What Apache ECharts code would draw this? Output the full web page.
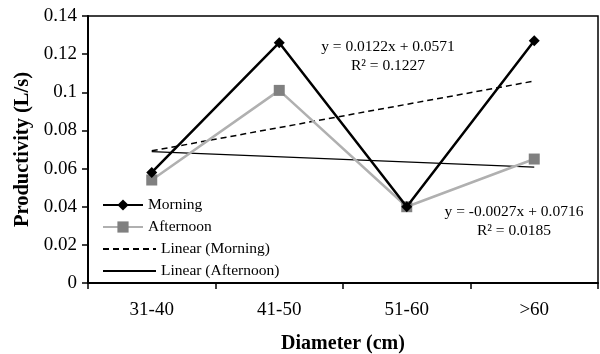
<!DOCTYPE html>
<html><head><meta charset="utf-8">
<script src="https://cdn.jsdelivr.net/npm/echarts@6/dist/echarts.min.js"></script>
<style>html,body{margin:0;padding:0;background:#fff}#c{width:600px;height:354px}</style>
</head><body><div id="c"></div>
<script>
var categories = ['31-40', '41-50', '51-60', '>60'];
var morning = [0.058, 0.126, 0.040, 0.127];
var afternoon = [0.054, 0.101, 0.040, 0.065];
var linearMorning = [0.0693, null, null, 0.1059];
var linearAfternoon = [0.0689, null, null, 0.0608];
var eqMorning = ['y = 0.0122x + 0.0571', 'R\u00B2 = 0.1227'];
var eqAfternoon = ['y = -0.0027x + 0.0716', 'R\u00B2 = 0.0185'];

var F = '"Liberation Serif", "Times New Roman", serif';
var legendText = {fontFamily: F, fontSize: 15.5, color: '#000', lineHeight: 16};
var chart = echarts.init(document.getElementById('c'));
chart.setOption({
  animation: false,
  grid: {left: 88, right: 2, top: 16, bottom: 71, outerBoundsMode: 'none', containLabel: false,
         show: true, borderColor: '#000', borderWidth: 1.5},
  legend: [
    {left: 102, top: 197, padding: 0, orient: 'vertical', itemGap: 6, itemWidth: 40, itemHeight: 14,
     textStyle: legendText, data: ['Morning', 'Afternoon']},
    {left: 102, top: 241, padding: 0, orient: 'vertical', itemGap: 6, itemWidth: 53, itemHeight: 14,
     textStyle: legendText,
     data: [{name: 'Linear (Morning)', itemStyle: {opacity: 0}},
            {name: 'Linear (Afternoon)', itemStyle: {opacity: 0}}]}
  ],
  xAxis: {
    type: 'category', data: categories, boundaryGap: true,
    axisLine: {lineStyle: {color: '#000', width: 2}},
    axisTick: {show: true, length: 6, lineStyle: {color: '#000', width: 1.5}},
    axisLabel: {fontFamily: F, fontSize: 19, color: '#000', margin: 18},
    name: 'Diameter (cm)', nameLocation: 'middle', nameGap: 51,
    nameTextStyle: {fontFamily: F, fontSize: 20, fontWeight: 'bold', color: '#000'}
  },
  yAxis: {
    type: 'value', min: 0, max: 0.14, interval: 0.02,
    axisLine: {show: true, lineStyle: {color: '#000', width: 2}},
    axisTick: {show: true, length: 6, lineStyle: {color: '#000', width: 1.5}},
    splitLine: {show: false},
    axisLabel: {fontFamily: F, fontSize: 19, color: '#000', margin: 11},
    name: 'Productivity (L/s)', nameLocation: 'middle', nameGap: 51,
    nameTextStyle: {fontFamily: F, fontSize: 20.5, fontWeight: 'bold', color: '#000'}
  },
  series: [
    {name: 'Linear (Morning)', type: 'line', data: linearMorning, connectNulls: true, symbol: 'none',
     lineStyle: {color: '#000', width: 1.5, type: [6, 4]}, itemStyle: {color: '#000'}, z: 1},
    {name: 'Linear (Afternoon)', type: 'line', data: linearAfternoon, connectNulls: true, symbol: 'none',
     lineStyle: {color: '#000', width: 1.3}, itemStyle: {color: '#000'}, z: 1},
    {name: 'Afternoon', type: 'line', data: afternoon, symbol: 'rect', symbolSize: 11,
     lineStyle: {color: '#b0b0b0', width: 2.5}, itemStyle: {color: '#808080'}, z: 2},
    {name: 'Morning', type: 'line', data: morning, symbol: 'diamond', symbolSize: 11,
     lineStyle: {color: '#000', width: 2.5}, itemStyle: {color: '#000'}, z: 3}
  ],
  graphic: [
    {type: 'text', x: 388, y: 56.5, style: {text: eqMorning.join('\n'), font: '15.5px ' + F, fill: '#000', align: 'center', verticalAlign: 'middle', lineHeight: 19}},
    {type: 'text', x: 514, y: 221, style: {text: eqAfternoon.join('\n'), font: '15.5px ' + F, fill: '#000', align: 'center', verticalAlign: 'middle', lineHeight: 19}}
  ]
});
</script></body></html>
